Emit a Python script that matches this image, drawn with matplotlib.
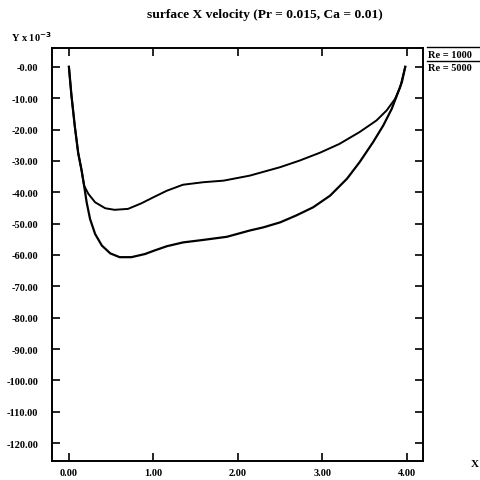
import numpy as np
import matplotlib.pyplot as plt
from matplotlib.lines import Line2D

# surface X velocity, Y in units of 1e-3
x_1000 = [0.00, 0.03, 0.07, 0.11, 0.15, 0.18, 0.23, 0.31, 0.43, 0.54, 0.70, 0.86,
          1.00, 1.16, 1.35, 1.59, 1.83, 2.14, 2.50, 2.73, 2.97, 3.20, 3.44, 3.64,
          3.76, 3.86, 3.92, 3.98]
y_1000 = [0.0, -9.1, -19.0, -27.5, -33.0, -37.9, -40.5, -43.2, -45.1, -45.6, -45.3, -43.5,
          -41.6, -39.5, -37.6, -36.8, -36.3, -34.7, -32.0, -29.9, -27.4, -24.6, -20.8, -17.1,
          -13.9, -10.2, -6.5, 0.0]

x_5000 = [0.00, 0.03, 0.07, 0.11, 0.15, 0.18, 0.21, 0.25, 0.31, 0.39, 0.49, 0.60,
          0.74, 0.90, 1.01, 1.16, 1.35, 1.59, 1.87, 2.14, 2.30, 2.50, 2.69, 2.89,
          3.09, 3.29, 3.44, 3.60, 3.72, 3.82, 3.88, 3.94, 3.98]
y_5000 = [0.0, -9.1, -19.0, -27.5, -33.0, -37.9, -43.2, -48.5, -53.3, -57.0, -59.5, -60.7,
          -60.7, -59.7, -58.6, -57.2, -56.0, -55.2, -54.2, -52.2, -51.2, -49.6, -47.4, -44.8,
          -41.1, -35.7, -30.4, -24.0, -18.7, -13.4, -9.2, -4.9, 0.0]

labels = ['Re = 1000', 'Re = 5000']
x_ticks = [0, 1, 2, 3, 4]
y_ticks = list(range(0, -130, -10))

plt.rcParams['font.family'] = ['Liberation Serif', 'DejaVu Serif']
plt.rcParams['font.weight'] = 'bold'

fig = plt.figure(figsize=(4.81, 4.81), dpi=100)
ax = fig.add_axes([52 / 481, 1 - 462 / 481, 371 / 481, 413 / 481])

ax.plot(x_1000, y_1000, color='black', lw=1.4, solid_joinstyle='round')
ax.plot(x_5000, y_5000, color='black', lw=1.6, solid_joinstyle='round')

ax.set_xlim(-0.2, 4.19)
ax.set_ylim(-125.7, 6.0)
ax.set_xticks(x_ticks)
ax.set_xticklabels([f'{v:.2f}' for v in x_ticks])
ax.set_yticks(y_ticks)
ax.set_yticklabels(['-0.00'] + [f'{v:.2f}' for v in y_ticks[1:]])
ax.tick_params(direction='in', length=6, width=1.2, labelsize=7.5,
               top=True, right=True)
ax.tick_params(axis='y', pad=10)
ax.tick_params(axis='x', pad=5)
for s in ax.spines.values():
    s.set_linewidth(1.4)

fig.text(265 / 481, 1 - 15 / 481, 'surface X velocity (Pr = 0.015, Ca = 0.01)',
         ha='center', va='center', fontsize=9.7, fontweight='bold')
fig.text(11 / 481, 1 - 37 / 481, 'Y x 10$^{\\mathbf{-3}}$', ha='left', va='center',
         fontsize=7.5)
fig.text(475 / 481, 1 - 465 / 481, 'X', ha='center', va='center', fontsize=8)

# legend drawn the old way: a line sample above each label
for i, lab in enumerate(labels):
    yl = 1 - (48 + 14 * i) / 481
    fig.add_artist(Line2D([427 / 481, 480 / 481], [yl, yl], color='black', lw=1.0,
                          transform=fig.transFigure))
    fig.text(428 / 481, yl - 7 / 481, lab, ha='left', va='center', fontsize=7.5)

fig.savefig('out.png', dpi=100)
